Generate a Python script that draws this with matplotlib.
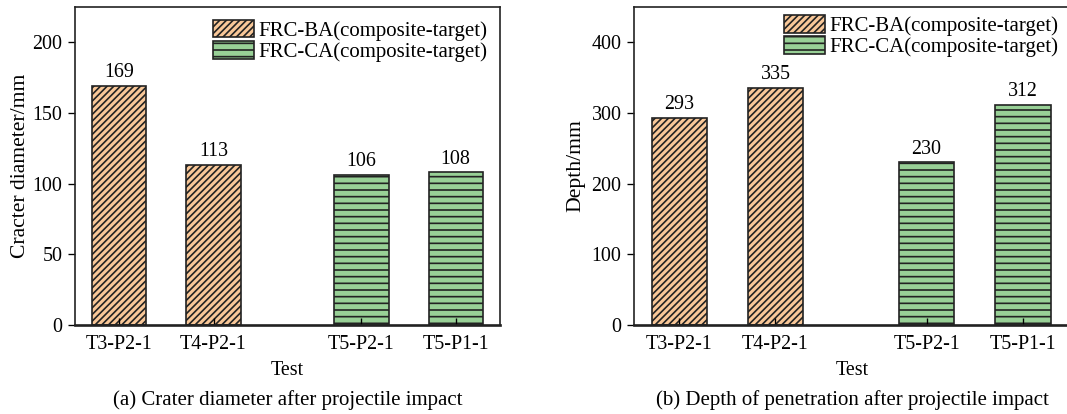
import numpy as np
import matplotlib.pyplot as plt
from matplotlib.patches import Patch

plt.rcParams['font.family'] = ['Liberation Serif', 'DejaVu Serif']
plt.rcParams['hatch.linewidth'] = 1.0

tests = ["T3-P2-1", "T4-P2-1", "T5-P2-1", "T5-P1-1"]
groups = ["BA", "BA", "CA", "CA"]
crater_diameter = [169, 113, 106, 108]
penetration_depth = [293, 335, 230, 312]

pos = np.array([0, 1, 2.57, 3.57])
orange = "#f8c798"
green = "#98d096"
edge = "#222222"
style = {"BA": (orange, "//////"), "CA": (green, "---")}

fig = plt.figure(figsize=(1067 / 120, 414 / 120), dpi=120)
ax1 = fig.add_axes([75 / 1067, 89 / 414, 425 / 1067, 318 / 414])
ax2 = fig.add_axes([634 / 1067, 89 / 414, 437 / 1067, 318 / 414])

panels = [
    (ax1, crater_diameter, "Cracter diameter/mm", 225, 50,
     "(a) Crater diameter after projectile impact", 1.0, 1.5, 4.04),
    (ax2, penetration_depth, "Depth/mm", 450, 100,
     "(b) Depth of penetration after projectile impact", 1.015, 4.0, 4.07),
]

for ax, vals, ylab, ymax, step, caption, leg_y, ypad, xmax in panels:
    for x, v, g in zip(pos, vals, groups):
        fc, hatch = style[g]
        ax.bar(x, v, width=0.575, color=fc, edgecolor=edge,
               hatch=hatch, linewidth=1.0)
        ax.text(x, v + ymax * 0.012, str(v), ha="center", va="bottom",
                fontsize=12)
    ax.set_xlim(-0.47, xmax)
    ax.set_ylim(0, ymax)
    ax.set_yticks(np.arange(0, ymax, step))
    ax.set_xticks(pos)
    ax.set_xticklabels(tests)
    ax.tick_params(axis="x", direction="in", length=4, labelsize=12, pad=6)
    ax.tick_params(axis="y", direction="out", length=4, labelsize=12)
    ax.set_ylabel(ylab, fontsize=13, labelpad=ypad)
    ax.set_xlabel("Test", fontsize=12, labelpad=4)
    for s in ax.spines.values():
        s.set_linewidth(1.0)
        s.set_color(edge)
    ax.spines["bottom"].set_linewidth(1.6)
    handles = [Patch(facecolor=orange, edgecolor=edge, hatch="//////"),
               Patch(facecolor=green, edgecolor=edge, hatch="---")]
    ax.legend(handles, ["FRC-BA(composite-target)", "FRC-CA(composite-target)"],
              loc="upper right", bbox_to_anchor=(1.0, leg_y), frameon=False,
              fontsize=12.5, handlelength=2.0, handleheight=0.95,
              labelspacing=0.0, handletextpad=0.2, borderaxespad=0.2)
    ax.text(0.5, -0.205, caption, transform=ax.transAxes, ha="center",
            va="top", fontsize=12.5)

fig.savefig("out.png", dpi=120)
